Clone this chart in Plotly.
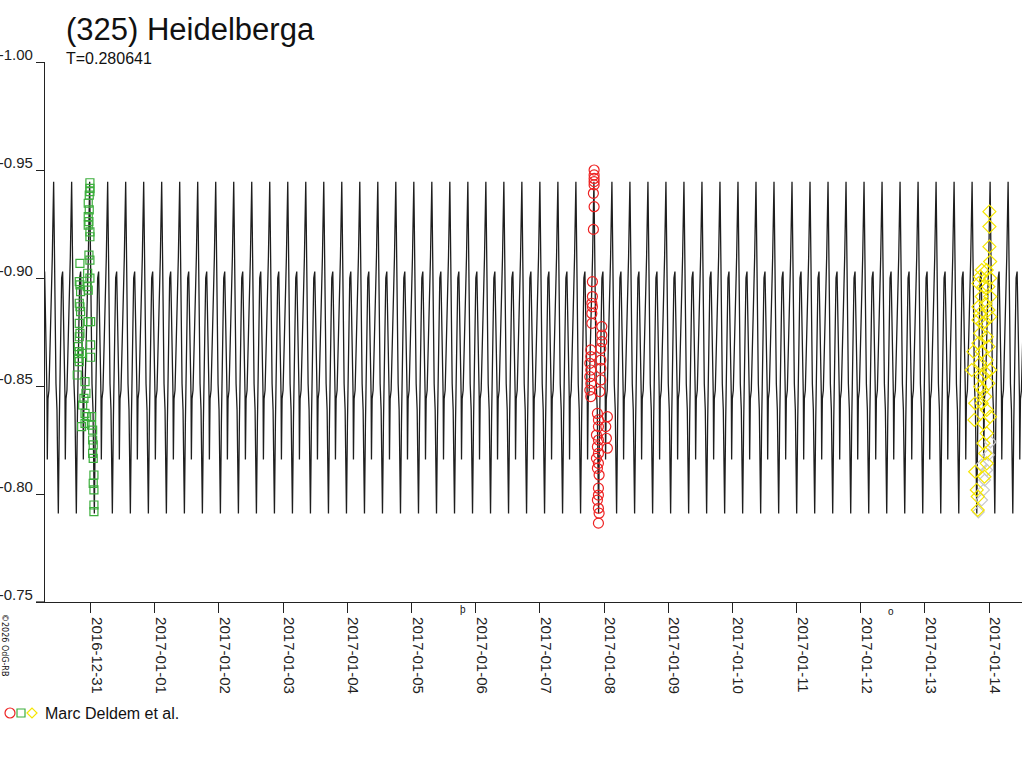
import pandas as pd
import plotly.graph_objects as go

# lightcurve model: one period, repeated with the period T
PERIOD_DAYS = 0.280641
EPOCH_MAX = "2017-01-01 22:47"
PROFILE_PHASE = [0.0, 0.045, 0.093, 0.13, 0.185, 0.22, 0.26, 0.315, 0.37, 0.444,
                 0.5, 0.537, 0.593, 0.63, 0.648, 0.685, 0.74, 0.815, 0.87, 0.926]
PROFILE_MAG = [-0.9446, -0.900, -0.885, -0.851, -0.839, -0.817, -0.791, -0.833, -0.871, -0.900,
               -0.903, -0.888, -0.857, -0.845, -0.816, -0.844, -0.848, -0.870, -0.885, -0.910]
CYCLES = (-10, 46)

# session 1 (green squares)
green_t = ["2016-12-30 23:44", "2016-12-30 23:44", "2016-12-30 23:44", "2016-12-30 23:29",
           "2016-12-30 23:06", "2016-12-30 23:29", "2016-12-30 23:06", "2016-12-30 23:22",
           "2016-12-30 23:06", "2016-12-30 23:44", "2016-12-30 23:44", "2016-12-30 23:22",
           "2016-12-30 23:44", "2016-12-30 22:53", "2016-12-30 23:44", "2016-12-30 22:44",
           "2016-12-30 23:06", "2016-12-30 20:00", "2016-12-30 19:45", "2016-12-30 20:00",
           "2016-12-30 20:15", "2016-12-30 19:45", "2016-12-30 20:00", "2016-12-30 20:15",
           "2016-12-30 19:45", "2016-12-30 23:06", "2016-12-31 00:00", "2016-12-30 20:00",
           "2016-12-30 19:45", "2016-12-30 19:24", "2016-12-30 19:45", "2016-12-30 20:38",
           "2016-12-30 19:24", "2016-12-30 19:45", "2016-12-31 00:00", "2016-12-31 00:00",
           "2016-12-30 19:00", "2016-12-30 21:54", "2016-12-30 22:14", "2016-12-30 21:30",
           "2016-12-30 21:01", "2016-12-30 21:54", "2016-12-30 20:38", "2016-12-30 21:54",
           "2016-12-30 22:31", "2016-12-31 00:22", "2016-12-31 00:22", "2016-12-31 00:45",
           "2016-12-31 00:45", "2016-12-31 00:58", "2016-12-31 00:45", "2016-12-31 00:58",
           "2016-12-31 01:14", "2016-12-31 00:58", "2016-12-31 01:14", "2016-12-31 01:14",
           "2016-12-31 01:14"]
green_mag = [-0.9441, -0.9415, -0.9400, -0.9384, -0.9346, -0.9315, -0.9284, -0.9261,
             -0.9245, -0.9214, -0.9191, -0.9106, -0.9083, -0.9022, -0.8999, -0.8960,
             -0.8944, -0.9068, -0.8983, -0.8968, -0.8937, -0.8883, -0.8867, -0.8844,
             -0.8790, -0.8798, -0.8798, -0.8744, -0.8728, -0.8682, -0.8659, -0.8651,
             -0.8628, -0.8613, -0.8690, -0.8633, -0.8551, -0.8520, -0.8466, -0.8443,
             -0.8412, -0.8373, -0.8312, -0.8327, -0.8358, -0.8358, -0.8319, -0.8296,
             -0.8250, -0.8227, -0.8188, -0.8165, -0.8088, -0.8049, -0.8019, -0.7949,
             -0.7918]

# session 2 (red circles)
red_t = ["2017-01-07 20:18", "2017-01-07 20:18", "2017-01-07 20:18", "2017-01-07 20:18",
         "2017-01-07 20:18", "2017-01-07 20:02", "2017-01-07 20:18", "2017-01-07 20:02",
         "2017-01-07 19:40", "2017-01-07 19:40", "2017-01-07 19:27", "2017-01-07 19:40",
         "2017-01-07 19:27", "2017-01-07 19:27", "2017-01-07 23:11", "2017-01-07 23:11",
         "2017-01-07 23:11", "2017-01-07 22:49", "2017-01-07 19:04", "2017-01-07 19:04",
         "2017-01-07 18:42", "2017-01-07 19:04", "2017-01-07 22:49", "2017-01-07 22:49",
         "2017-01-07 18:42", "2017-01-07 19:04", "2017-01-07 22:49", "2017-01-07 18:42",
         "2017-01-07 22:26", "2017-01-07 19:04", "2017-01-07 21:32", "2017-01-08 01:16",
         "2017-01-07 21:55", "2017-01-07 21:55", "2017-01-08 00:40", "2017-01-07 21:10",
         "2017-01-08 00:54", "2017-01-07 21:55", "2017-01-07 21:32", "2017-01-08 01:16",
         "2017-01-07 21:55", "2017-01-07 21:10", "2017-01-07 21:55", "2017-01-07 21:32",
         "2017-01-07 22:10", "2017-01-07 21:55", "2017-01-07 21:55", "2017-01-07 21:32",
         "2017-01-07 21:55", "2017-01-07 22:10", "2017-01-07 21:55"]
red_mag = [-0.9500, -0.9477, -0.9461, -0.9446, -0.9431, -0.9392, -0.9330, -0.9225,
           -0.8983, -0.8914, -0.8883, -0.8867, -0.8836, -0.8790, -0.8775, -0.8736,
           -0.8705, -0.8674, -0.8667, -0.8636, -0.8605, -0.8574, -0.8620, -0.8582,
           -0.8543, -0.8512, -0.8528, -0.8481, -0.8474, -0.8451, -0.8373, -0.8358,
           -0.8343, -0.8312, -0.8312, -0.8273, -0.8258, -0.8250, -0.8219, -0.8212,
           -0.8188, -0.8165, -0.8142, -0.8119, -0.8088, -0.8027, -0.7995, -0.7972,
           -0.7934, -0.7911, -0.7865]

# session 3 (yellow diamonds)
yellow_t = ["2017-01-14 00:09", "2017-01-14 00:09", "2017-01-14 00:09", "2017-01-14 00:25",
            "2017-01-13 21:16", "2017-01-13 20:41", "2017-01-13 20:02", "2017-01-13 23:08",
            "2017-01-14 00:25", "2017-01-13 23:47", "2017-01-14 00:25", "2017-01-13 21:16",
            "2017-01-13 20:02", "2017-01-13 20:41", "2017-01-13 23:47", "2017-01-14 00:25",
            "2017-01-13 20:02", "2017-01-13 22:32", "2017-01-13 20:41", "2017-01-13 23:08",
            "2017-01-13 20:02", "2017-01-13 23:47", "2017-01-13 21:16", "2017-01-13 18:11",
            "2017-01-13 17:32", "2017-01-13 20:41", "2017-01-13 23:08", "2017-01-14 00:25",
            "2017-01-13 21:16", "2017-01-13 20:41", "2017-01-13 23:47", "2017-01-13 22:32",
            "2017-01-13 21:16", "2017-01-13 18:49", "2017-01-13 23:08", "2017-01-14 00:25",
            "2017-01-13 18:33", "2017-01-13 21:55", "2017-01-13 23:08", "2017-01-13 21:55",
            "2017-01-13 22:32", "2017-01-13 23:08", "2017-01-13 18:49", "2017-01-13 22:17",
            "2017-01-13 19:25", "2017-01-13 19:47", "2017-01-13 19:47", "2017-01-13 22:00",
            "2017-01-13 22:40", "2017-01-13 21:40", "2017-01-13 22:50", "2017-01-13 21:30"]
yellow_mag = [-0.9307, -0.9238, -0.9145, -0.9076, -0.9037, -0.9006, -0.8975, -0.9037,
              -0.8999, -0.8960, -0.8914, -0.8914, -0.8867, -0.8836, -0.8852, -0.8821,
              -0.8806, -0.8798, -0.8744, -0.8728, -0.8698, -0.8682, -0.8659, -0.8659,
              -0.8574, -0.8605, -0.8620, -0.8574, -0.8543, -0.8497, -0.8512, -0.8451,
              -0.8420, -0.8420, -0.8389, -0.8358, -0.8343, -0.8327, -0.8281, -0.8235,
              -0.8188, -0.8142, -0.8103, -0.8080, -0.8019, -0.7988, -0.7926, -0.8960,
              -0.8880, -0.8790, -0.8560, -0.8480]

# faint grey diamonds on the last night
grey_t = ["2017-01-13 20:02", "2017-01-13 21:14", "2017-01-13 21:59", "2017-01-13 22:22",
          "2017-01-13 23:08", "2017-01-13 23:47", "2017-01-14 00:31", "2017-01-13 21:14"]
grey_mag = [-0.7917, -0.7972, -0.8019, -0.8065, -0.8111, -0.8181, -0.8241, -0.8134]

Y_TICKS = [-1.00, -0.95, -0.90, -0.85, -0.80, -0.75]
X_TICKS = pd.date_range("2016-12-31", "2017-01-14", freq="D")
X_RANGE = ["2016-12-30 06:56", "2017-01-14 12:20"]

TITLE = "(325) Heidelberga"
OBSERVERS = "Marc Deldem et al."
FONT = "Liberation Sans"

# build the model curve from the period profile
epoch = pd.Timestamp(EPOCH_MAX)
model_t, model_mag = [], []
for k in range(*CYCLES):
    for ph, m in zip(PROFILE_PHASE, PROFILE_MAG):
        model_t.append(epoch + pd.Timedelta(days=(k + ph) * PERIOD_DAYS))
        model_mag.append(m)

fig = go.Figure()
fig.add_trace(go.Scatter(x=model_t, y=model_mag, mode="lines",
                         line=dict(color="#1e1e1e", width=1.3), hoverinfo="skip"))

marker_sets = [
    (grey_t, grey_mag, "diamond-open", "#c8c8c8", 9),
    (green_t, green_mag, "square-open", "#3cae3c", 8),
    (red_t, red_mag, "circle-open", "#ee2222", 10),
    (yellow_t, yellow_mag, "diamond-open", "#f5e600", 10),
]
for xs, ys, sym, col, size in marker_sets:
    fig.add_trace(go.Scatter(
        x=pd.to_datetime(xs), y=ys, mode="markers",
        marker=dict(symbol=sym, size=size, color=col, line=dict(color=col, width=1.2)),
    ))

fig.update_xaxes(
    range=X_RANGE, tickvals=X_TICKS, ticktext=[d.strftime("%Y-%m-%d") for d in X_TICKS],
    tickangle=90, ticks="outside", ticklen=10, tickcolor="#222", tickwidth=1.2,
    ticklabelshift=6, ticklabelstandoff=1, automargin=False,
    showline=True, linecolor="#222", linewidth=1.2, showgrid=False, zeroline=False,
    tickfont=dict(family=FONT, size=15, color="#222"),
)
fig.update_yaxes(
    range=[-0.75, -1.00], tickvals=Y_TICKS, ticktext=[f"{v:.2f}" for v in Y_TICKS],
    ticks="outside", ticklen=8, tickcolor="#222", tickwidth=1.2, ticklabelshift=7,
    ticklabelstandoff=0, automargin=False,
    showline=True, linecolor="#222", linewidth=1.2, showgrid=False, zeroline=False,
    tickfont=dict(family=FONT, size=15, color="#222"),
)

annotations = [
    dict(text=TITLE, xref="paper", yref="paper", x=0, y=1, xshift=19, yshift=33,
         xanchor="left", yanchor="middle", showarrow=False,
         font=dict(family=FONT, size=31, color="#111")),
    dict(text="T=0.280641", xref="paper", yref="paper", x=0, y=1, xshift=19, yshift=4,
         xanchor="left", yanchor="middle", showarrow=False,
         font=dict(family=FONT, size=16, color="#111")),
    dict(text=OBSERVERS, xref="paper", yref="paper", x=0, y=0, xshift=-2, yshift=-111,
         xanchor="left", yanchor="middle", showarrow=False,
         font=dict(family=FONT, size=16, color="#111")),
    dict(text="©2026 OdG-RB", xref="paper", yref="paper", x=0, y=0, xshift=-40, yshift=-43,
         xanchor="center", yanchor="middle", textangle=90, showarrow=False,
         font=dict(family="DejaVu Sans", size=8, color="#111")),
    dict(text="þ", xref="x", yref="paper", x="2017-01-05 19:22", y=0, yshift=-7,
         xanchor="center", yanchor="middle", showarrow=False,
         font=dict(family=FONT, size=10, color="#111")),
    dict(text="o", xref="x", yref="paper", x="2017-01-12 11:12", y=0, yshift=-9,
         xanchor="center", yanchor="middle", showarrow=False,
         font=dict(family=FONT, size=10, color="#111")),
]

# legend symbols drawn in pixels next to the observer name,
# plus the short stub of the x axis line left of the y axis
pixel_shapes = [
    dict(type="circle", x0=-40, x1=-30, y0=-116, y1=-106, line=dict(color="#ee2222", width=1.2)),
    dict(type="rect", x0=-28, x1=-20, y0=-115, y1=-107, line=dict(color="#3cae3c", width=1.2)),
    dict(type="path", path="M -18,-111 L -13,-106 L -8,-111 L -13,-116 Z",
         line=dict(color="#f5e600", width=1.2)),
    dict(type="line", x0=-9, x1=0, y0=0, y1=0, line=dict(color="#222", width=1.2)),
]
shapes = []
for s in pixel_shapes:
    s.update(xref="paper", yref="paper", xsizemode="pixel", ysizemode="pixel",
             xanchor=0, yanchor=0)
    shapes.append(s)

fig.update_layout(
    width=1024, height=768, autosize=False,
    margin=dict(l=45, r=2, t=62, b=166),
    paper_bgcolor="white", plot_bgcolor="white",
    showlegend=False,
    annotations=annotations, shapes=shapes,
)

# drop the page's default body margin so the figure sits at the window corner
fig.write_html("out.html", config={"displayModeBar": False},
               post_script="document.body.style.margin='0';")
